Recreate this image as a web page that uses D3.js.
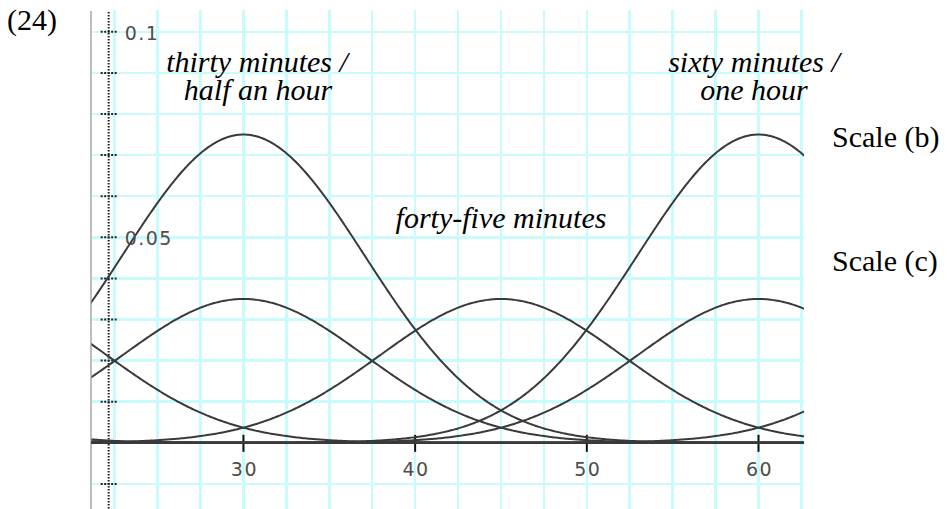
<!DOCTYPE html>
<html>
	<head>
		<script src="https://cdn.jsdelivr.net/npm/d3@7/dist/d3.min.js" charset="UTF-8"></script>
		<style type="text/css">
			body { margin: 0; background: #fff; }
			.grid line { stroke: #c8fbfb; stroke-width: 2.5; shape-rendering: crispEdges; }
			.curve { fill: none; stroke: #3a3a3a; stroke-width: 2; }
			.tick-label { font-family: "DejaVu Sans", sans-serif; font-size: 19px; fill: #4d4d4d; letter-spacing: 1.5px; }
			.note { font-family: "Liberation Serif", "Times New Roman", serif; font-style: italic; font-size: 30px; fill: #000; }
			.side { font-family: "Liberation Serif", "Times New Roman", serif; font-size: 30px; fill: #000; }
		</style>
	</head>
	<body>
		<script type="text/javascript">
			// curve parameters
			var scaleBCentres = [0, 30, 60, 90];
			var scaleBPeak = 0.075;
			var scaleCCentres = [0, 15, 30, 45, 60, 75, 90];
			var scaleCPeak = 0.035;
			var spread = 7.07;

			var xTicks = [30, 40, 50, 60];
			var yLabels = [0.1, 0.05];
			var xGrid = d3.range(22.5, 63, 2.5);
			var yGrid = d3.range(-0.01, 0.1001, 0.01);
			var yAxisAt = 22.15;

			var width = 947;
			var height = 509;
			var plotLeft = 91.5, plotRight = 804, plotTop = 10, plotBottom = 509;

			var svg = d3.select("body")
				.append("svg")
				.attr("width", width)
				.attr("height", height);

			var xScale = d3.scaleLinear()
				.domain([21.15, 62.65])
				.range([plotLeft, plotRight]);
			var yScale = d3.scaleLinear()
				.domain([-0.0161, 0.1053])
				.range([plotBottom, plotTop]);

			svg.append("clipPath").attr("id", "plot")
				.append("rect")
				.attr("x", plotLeft).attr("y", plotTop)
				.attr("width", plotRight - plotLeft).attr("height", plotBottom - plotTop);

			var grid = svg.append("g").attr("class", "grid");
			grid.selectAll(".v").data(xGrid).enter().append("line")
				.attr("x1", d => xScale(d)).attr("x2", d => xScale(d))
				.attr("y1", plotTop).attr("y2", plotBottom);
			grid.selectAll(".h").data(yGrid).enter().append("line")
				.attr("x1", plotLeft).attr("x2", plotRight)
				.attr("y1", d => yScale(d)).attr("y2", d => yScale(d));

			// left border
			svg.append("line")
				.attr("x1", plotLeft - 0.5).attr("x2", plotLeft - 0.5)
				.attr("y1", plotTop + 1).attr("y2", plotBottom)
				.attr("stroke", "#bdbdbd").attr("stroke-width", 2);

			// dotted y axis with dotted ticks
			var yAxis = svg.append("g");
			yAxis.append("line")
				.attr("x1", xScale(yAxisAt)).attr("x2", xScale(yAxisAt))
				.attr("y1", plotTop + 2).attr("y2", plotBottom)
				.attr("stroke", "#222").attr("stroke-width", 2)
				.attr("stroke-dasharray", "1.5,1.5");
			yAxis.selectAll(".yt").data(yGrid).enter().append("line")
				.attr("x1", xScale(yAxisAt) - 8).attr("x2", xScale(yAxisAt) + 9)
				.attr("y1", d => yScale(d)).attr("y2", d => yScale(d))
				.attr("stroke", "#222").attr("stroke-width", 2)
				.attr("stroke-dasharray", "2,1.5");

			// x axis
			svg.append("line")
				.attr("x1", plotLeft).attr("x2", plotRight)
				.attr("y1", yScale(0)).attr("y2", yScale(0))
				.attr("stroke", "#111").attr("stroke-width", 2);

			var xAxis = svg.append("g");
			xAxis.selectAll("line").data(xTicks).enter().append("line")
				.attr("x1", d => xScale(d)).attr("x2", d => xScale(d))
				.attr("y1", yScale(0) - 8).attr("y2", yScale(0) + 9)
				.attr("stroke", "#111").attr("stroke-width", 2);
			xAxis.selectAll("text").data(xTicks).enter().append("text")
				.attr("class", "tick-label")
				.attr("x", d => xScale(d) + 1).attr("y", yScale(0) + 33)
				.attr("text-anchor", "middle")
				.text(d => d);

			var curveGroup = svg.append("g").attr("clip-path", "url(#plot)");
			var xs = d3.range(20, 64.01, 0.1);
			var line = d3.line()
				.x(d => xScale(d[0]))
				.y(d => yScale(d[1]));

			function bump(centre, peak) {
				return xs.map(x => [x, peak * Math.exp(-(x - centre) * (x - centre) / (2 * spread * spread))]);
			}

			curveGroup.selectAll(".b").data(scaleBCentres).enter().append("path")
				.attr("class", "curve")
				.attr("d", c => line(bump(c, scaleBPeak)));
			curveGroup.selectAll(".c").data(scaleCCentres).enter().append("path")
				.attr("class", "curve")
				.attr("d", c => line(bump(c, scaleCPeak)));

			// y tick labels, drawn over the curves
			svg.selectAll(".ylab").data(yLabels).enter().append("text")
				.attr("class", "tick-label")
				.attr("x", xScale(yAxisAt) + 16).attr("y", d => yScale(d) + 8)
				.text(d => d);

			svg.append("text").attr("class", "side")
				.attr("x", 7).attr("y", 30).text("(24)");

			svg.append("text").attr("class", "note").attr("text-anchor", "middle")
				.attr("x", 257).attr("y", 72).text("thirty minutes /");
			svg.append("text").attr("class", "note").attr("text-anchor", "middle")
				.attr("x", 258).attr("y", 100).text("half an hour");
			svg.append("text").attr("class", "note").attr("text-anchor", "middle")
				.attr("x", 501).attr("y", 228).text("forty-five minutes");
			svg.append("text").attr("class", "note").attr("text-anchor", "middle")
				.attr("x", 754).attr("y", 72).text("sixty minutes /");
			svg.append("text").attr("class", "note").attr("text-anchor", "middle")
				.attr("x", 754).attr("y", 100).text("one hour");

			svg.append("text").attr("class", "side")
				.attr("x", 832).attr("y", 147).text("Scale (b)");
			svg.append("text").attr("class", "side")
				.attr("x", 832).attr("y", 271).text("Scale (c)");
		</script>
	</body>
</html>
